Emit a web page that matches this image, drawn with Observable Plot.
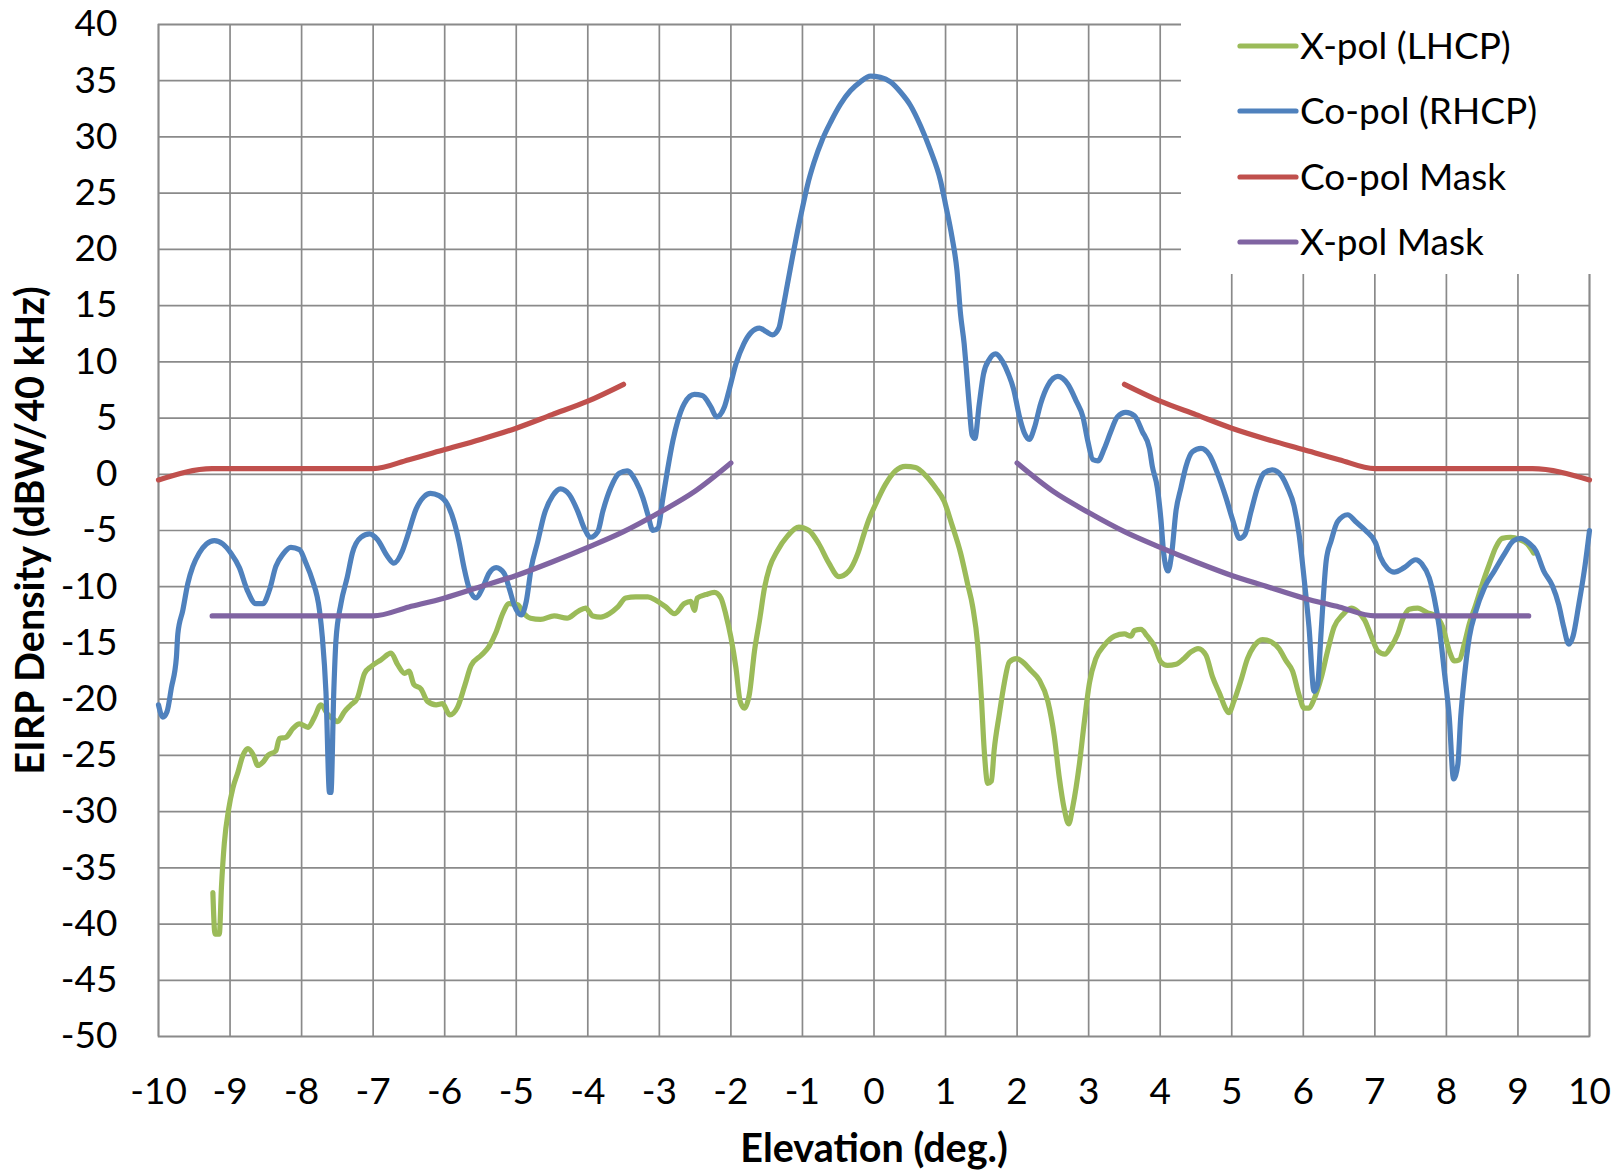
<!DOCTYPE html>
<html>
<head>
<meta charset="utf-8">
<script src="https://cdn.jsdelivr.net/npm/d3@7"></script>
<script src="https://cdn.jsdelivr.net/npm/@observablehq/plot@0.6"></script>
<style>
  html, body { margin: 0; padding: 0; background: #fff; }
  #wrap { position: relative; width: 1619px; height: 1175px; }
  #legend { position: absolute; left: 1181px; top: 0px; width: 438px; height: 274px; background: #fff; }
  [aria-label="x-axis label"], [aria-label="y-axis label"] { font-weight: bold; font-size: 39.5px; }
</style>
</head>
<body>
<div id="wrap"><div id="chart"></div><svg id="legend" width="438" height="274"></svg></div>
<script>
// ---- data ----
const seriesNames = ["X-pol (LHCP)", "Co-pol (RHCP)", "Co-pol Mask", "X-pol Mask"];
const seriesColors = ["#9BBB59", "#4F81BD", "#C0504D", "#8064A2"];

const xTicks = [-10,-9,-8,-7,-6,-5,-4,-3,-2,-1,0,1,2,3,4,5,6,7,8,9,10];
const yTicks = [-50,-45,-40,-35,-30,-25,-20,-15,-10,-5,0,5,10,15,20,25,30,35,40];

const xpolX = [-9.24,-9.21,-9.15,-9.12,-9.08,-9.02,-8.96,-8.89,-8.82,-8.75,-8.68,-8.61,-8.54,-8.47,-8.36,-8.31,-8.22,-8.12,-8.03,-7.91,-7.82,-7.73,-7.63,-7.57,-7.50,-7.40,-7.31,-7.22,-7.12,-7.03,-6.89,-6.75,-6.66,-6.56,-6.50,-6.43,-6.33,-6.24,-6.12,-6.03,-5.93,-5.82,-5.72,-5.63,-5.49,-5.38,-5.28,-5.19,-5.10,-4.98,-4.89,-4.80,-4.66,-4.47,-4.29,-4.14,-4.03,-3.93,-3.82,-3.70,-3.58,-3.47,-3.33,-3.16,-3.05,-2.91,-2.79,-2.65,-2.56,-2.51,-2.47,-2.35,-2.23,-2.14,-2.07,-2.00,-1.93,-1.87,-1.81,-1.74,-1.67,-1.60,-1.53,-1.46,-1.35,-1.21,-1.05,-0.91,-0.77,-0.63,-0.49,-0.35,-0.23,-0.14,-0.07,0.02,0.16,0.30,0.44,0.58,0.72,0.86,0.98,1.09,1.21,1.31,1.38,1.45,1.50,1.54,1.59,1.64,1.68,1.75,1.82,1.89,1.99,2.08,2.20,2.31,2.43,2.52,2.59,2.66,2.72,2.78,2.87,2.94,3.01,3.10,3.22,3.36,3.50,3.59,3.64,3.73,3.82,3.92,4.01,4.10,4.22,4.33,4.43,4.53,4.64,4.73,4.83,4.92,4.96,5.03,5.13,5.22,5.31,5.43,5.55,5.66,5.76,5.85,5.94,6.01,6.08,6.15,6.25,6.34,6.43,6.55,6.67,6.76,6.86,6.95,7.04,7.14,7.22,7.32,7.39,7.48,7.60,7.73,7.85,7.95,8.04,8.11,8.18,8.25,8.32,8.41,8.50,8.60,8.69,8.78,8.90,9.02,9.13,9.22];
const xpolY = [-37.2,-40.9,-40.9,-36.7,-32.8,-29.8,-27.9,-26.5,-25.0,-24.4,-24.9,-25.9,-25.6,-25.0,-24.6,-23.5,-23.4,-22.6,-22.2,-22.5,-21.6,-20.5,-21.4,-21.7,-22.0,-21.1,-20.5,-19.9,-17.7,-17.1,-16.5,-15.9,-16.9,-17.7,-17.5,-18.7,-19.1,-20.2,-20.5,-20.4,-21.4,-20.7,-18.8,-17.0,-16.1,-15.3,-14.0,-12.4,-11.5,-11.6,-12.4,-12.8,-12.9,-12.6,-12.8,-12.2,-11.9,-12.6,-12.7,-12.4,-11.8,-11.0,-10.9,-10.9,-11.2,-11.8,-12.4,-11.5,-11.3,-12.1,-11.0,-10.7,-10.5,-11.0,-12.5,-14.5,-17.2,-20.2,-20.8,-19.5,-15.7,-13.0,-10.1,-8.3,-6.8,-5.5,-4.7,-5.0,-6.2,-7.9,-9.1,-8.6,-7.1,-5.3,-4.0,-2.7,-0.9,0.3,0.7,0.6,-0.1,-1.2,-2.4,-4.5,-7.0,-9.8,-11.8,-15.2,-19.8,-24.5,-27.5,-27.3,-24.5,-21.4,-18.6,-16.7,-16.4,-16.7,-17.5,-18.3,-20.2,-23.3,-27.0,-29.8,-31.1,-29.5,-25.8,-22.0,-18.6,-16.4,-15.2,-14.4,-14.2,-14.4,-13.9,-13.8,-14.4,-15.3,-16.7,-17.0,-16.9,-16.4,-15.8,-15.5,-16.1,-18.0,-19.5,-20.9,-21.2,-20.2,-18.3,-16.4,-15.3,-14.7,-14.9,-15.5,-16.6,-17.5,-19.6,-20.8,-20.8,-20.0,-18.1,-15.7,-13.6,-12.5,-11.9,-12.2,-13.0,-14.4,-15.7,-16.0,-15.4,-14.2,-12.9,-12.0,-11.9,-12.3,-12.6,-13.6,-15.7,-16.6,-16.5,-15.1,-13.3,-11.6,-9.8,-8.0,-6.5,-5.7,-5.6,-5.8,-6.2,-7.0];

const copolX = [-10.00,-9.94,-9.88,-9.82,-9.75,-9.73,-9.66,-9.59,-9.52,-9.43,-9.33,-9.22,-9.10,-8.99,-8.87,-8.76,-8.64,-8.54,-8.45,-8.36,-8.26,-8.15,-8.03,-7.94,-7.85,-7.75,-7.71,-7.66,-7.61,-7.59,-7.55,-7.52,-7.45,-7.36,-7.29,-7.17,-7.05,-6.94,-6.80,-6.71,-6.59,-6.52,-6.40,-6.29,-6.20,-6.08,-5.96,-5.87,-5.80,-5.73,-5.66,-5.56,-5.47,-5.38,-5.28,-5.17,-5.10,-5.03,-4.93,-4.86,-4.79,-4.70,-4.61,-4.49,-4.38,-4.26,-4.14,-4.05,-3.96,-3.86,-3.79,-3.68,-3.56,-3.45,-3.33,-3.23,-3.16,-3.09,-3.02,-2.95,-2.88,-2.81,-2.74,-2.65,-2.51,-2.40,-2.28,-2.20,-2.09,-2.02,-1.93,-1.82,-1.72,-1.60,-1.51,-1.42,-1.33,-1.28,-1.21,-1.14,-1.07,-1.00,-0.93,-0.84,-0.72,-0.60,-0.47,-0.33,-0.19,-0.05,0.09,0.23,0.37,0.51,0.65,0.79,0.93,1.00,1.09,1.16,1.21,1.26,1.29,1.33,1.37,1.41,1.47,1.53,1.61,1.70,1.80,1.88,1.95,2.03,2.10,2.17,2.24,2.33,2.43,2.57,2.71,2.82,2.92,2.99,3.06,3.13,3.22,3.31,3.40,3.52,3.64,3.75,3.85,3.89,3.96,4.01,4.05,4.11,4.16,4.22,4.29,4.36,4.45,4.57,4.69,4.80,4.92,5.01,5.11,5.18,5.27,5.36,5.45,5.57,5.69,5.78,5.87,5.94,6.01,6.08,6.15,6.20,6.25,6.32,6.39,6.48,6.62,6.73,6.87,7.01,7.08,7.18,7.27,7.41,7.57,7.66,7.76,7.83,7.90,7.97,8.04,8.10,8.16,8.20,8.25,8.32,8.41,8.53,8.67,8.81,8.94,9.04,9.15,9.25,9.36,9.48,9.57,9.64,9.71,9.77,9.85,9.94,10.00];
const copolY = [-20.5,-21.6,-21.1,-19.0,-16.3,-14.2,-12.1,-9.7,-8.2,-7.0,-6.2,-5.9,-6.2,-7.0,-8.3,-10.3,-11.5,-11.5,-10.3,-8.2,-7.1,-6.5,-6.7,-7.9,-9.4,-12.1,-14.5,-19.3,-28.3,-28.3,-19.3,-14.8,-11.5,-9.1,-7.0,-5.6,-5.3,-5.8,-7.3,-7.9,-6.8,-5.5,-3.1,-2.0,-1.7,-1.9,-2.7,-4.2,-6.0,-8.3,-10.1,-11.0,-10.1,-8.8,-8.3,-8.8,-10.1,-11.6,-12.5,-11.3,-8.3,-6.0,-3.6,-1.9,-1.3,-1.8,-3.3,-4.8,-5.6,-5.1,-3.3,-1.2,0.1,0.3,-0.6,-2.1,-3.6,-5.0,-4.8,-2.1,0.6,3.0,4.8,6.3,7.1,7.0,6.0,5.1,6.0,7.6,9.8,11.6,12.6,13.0,12.7,12.4,13.0,14.5,16.9,19.3,21.6,23.7,25.7,27.7,29.8,31.4,32.9,34.1,34.9,35.4,35.3,34.9,34.0,32.8,31.0,28.8,26.1,24.0,21.1,18.1,14.2,11.6,9.4,6.2,3.5,3.2,6.2,8.9,10.2,10.7,10.0,8.9,7.6,5.2,3.7,3.1,4.1,6.3,7.9,8.7,8.0,6.6,5.1,2.9,1.3,1.2,2.3,3.8,5.1,5.5,5.2,3.8,2.3,0.7,-1.2,-4.0,-7.1,-8.6,-7.1,-3.3,-1.2,0.7,2.0,2.3,1.7,0.1,-2.1,-4.0,-5.7,-5.4,-3.3,-1.2,0.1,0.4,-0.1,-1.2,-2.8,-5.3,-9.2,-13.6,-19.3,-18.7,-13.9,-7.7,-5.9,-4.2,-3.6,-4.2,-5.0,-6.1,-7.4,-8.4,-8.7,-8.3,-7.6,-8.0,-9.2,-11.0,-13.6,-17.5,-21.6,-27.1,-25.8,-21.6,-18.1,-14.5,-12.2,-10.1,-8.6,-7.1,-5.9,-5.7,-6.1,-6.8,-8.6,-9.9,-11.6,-13.6,-15.1,-14.4,-11.6,-8.0,-5.0];

// Co-pol mask: left and right branches
const coMaskLX = [-10.0,-9.25,-7.0,-6.5,-6.0,-5.5,-5.0,-4.5,-4.0,-3.5];
const coMaskLY = [-0.5,0.5,0.5,1.3,2.2,3.1,4.1,5.3,6.5,8.0];
const coMaskRX = [3.5,4.0,4.5,5.0,5.5,6.0,6.5,7.0,9.2,10.0];
const coMaskRY = [8.0,6.5,5.3,4.1,3.1,2.2,1.3,0.5,0.5,-0.5];

// X-pol mask: left and right branches
const xMaskLX = [-9.25,-7.0,-6.5,-6.0,-5.5,-5.0,-4.5,-4.0,-3.5,-3.0,-2.5,-2.0];
const xMaskLY = [-12.6,-12.6,-11.8,-11.0,-10.0,-9.0,-7.8,-6.5,-5.1,-3.4,-1.5,1.0];
const xMaskRX = [2.0,2.5,3.0,3.5,4.0,4.5,5.0,5.5,6.0,6.5,7.0,9.15];
const xMaskRY = [1.0,-1.5,-3.4,-5.1,-6.5,-7.8,-9.0,-10.0,-11.0,-11.8,-12.6,-12.6];

// ---- build tables ----
const zip = (xs, ys) => xs.map((x, i) => ({x, y: ys[i]}));
const xpol = zip(xpolX, xpolY);
const copol = zip(copolX, copolY);
const coMask = [...zip(coMaskLX, coMaskLY).map(d => ({...d, branch: "L"})), ...zip(coMaskRX, coMaskRY).map(d => ({...d, branch: "R"}))];
const xMask = [...zip(xMaskLX, xMaskLY).map(d => ({...d, branch: "L"})), ...zip(xMaskRX, xMaskRY).map(d => ({...d, branch: "R"}))];

const gridColor = "#8a8a8a";
const lw = 5.2;

const chart = Plot.plot({
  width: 1619,
  height: 1175,
  marginLeft: 158,
  marginRight: 30,
  marginTop: 24,
  marginBottom: 139,
  style: {fontFamily: "Lato, 'Open Sans', sans-serif", fontSize: "37px", color: "#000", background: "#fff", overflow: "visible"},
  x: {domain: [-10, 10]},
  y: {domain: [-50, 40]},
  marks: [
    Plot.gridX(xTicks, {stroke: gridColor, strokeOpacity: 1, strokeWidth: 1.7}),
    Plot.gridY(yTicks, {stroke: gridColor, strokeOpacity: 1, strokeWidth: 1.7}),
    Plot.frame({stroke: gridColor, strokeWidth: 1.7}),
    Plot.axisX(xTicks, {tickSize: 0, tickPadding: 41, tickFormat: d => String(d), label: "Elevation (deg.)", labelAnchor: "center", labelOffset: 125, labelArrow: "none"}),
    Plot.axisY(yTicks, {tickSize: 0, tickPadding: 41, tickFormat: d => String(d), label: "EIRP Density (dBW/40 kHz)", labelAnchor: "center", labelOffset: 143, labelArrow: "none"}),
    Plot.line(xpol, {x: "x", y: "y", stroke: seriesColors[0], strokeWidth: lw, curve: "monotone-x", strokeLinejoin: "round", strokeLinecap: "round"}),
    Plot.line(copol, {x: "x", y: "y", stroke: seriesColors[1], strokeWidth: lw, curve: "monotone-x", strokeLinejoin: "round", strokeLinecap: "round"}),
    Plot.line(coMask, {x: "x", y: "y", z: "branch", stroke: seriesColors[2], strokeWidth: lw, curve: "monotone-x", strokeLinejoin: "round", strokeLinecap: "round"}),
    Plot.line(xMask, {x: "x", y: "y", z: "branch", stroke: seriesColors[3], strokeWidth: lw, curve: "monotone-x", strokeLinejoin: "round", strokeLinecap: "round"})
  ]
});
document.getElementById("chart").appendChild(chart);

// ---- legend (overlaid at the top-right like the original) ----
const leg = d3.select("#legend");
const rowY = [46, 111, 177, 242];
seriesNames.forEach((name, i) => {
  leg.append("line")
    .attr("x1", 59).attr("x2", 115)
    .attr("y1", rowY[i]).attr("y2", rowY[i])
    .attr("stroke", seriesColors[i]).attr("stroke-width", lw).attr("stroke-linecap", "round");
  leg.append("text")
    .attr("x", 119).attr("y", rowY[i] + 13.3)
    .attr("font-family", "Lato, 'Open Sans', sans-serif").attr("font-size", 37).attr("fill", "#000")
    .text(name);
});
</script>
</body>
</html>
